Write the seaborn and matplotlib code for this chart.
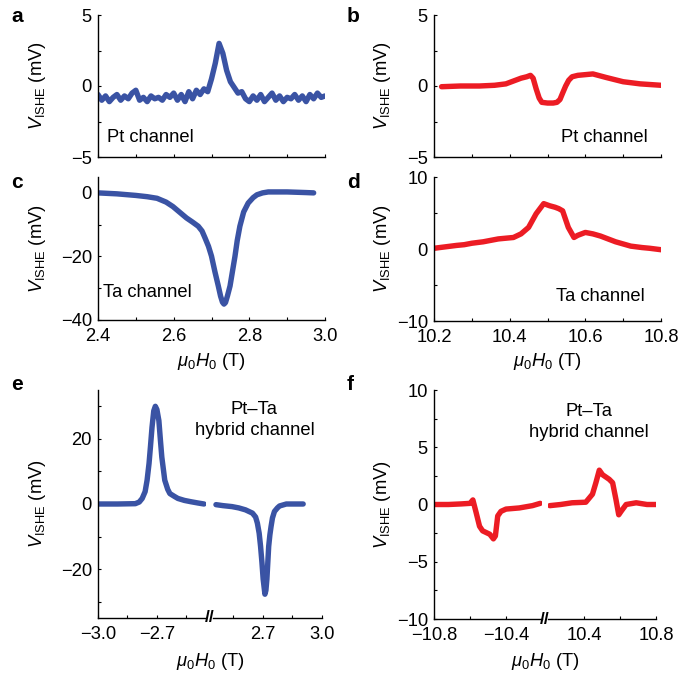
"""Inverse spin Hall voltage vs field, Pt / Ta / Pt-Ta hybrid channels (six panels)."""

import matplotlib
matplotlib.use("Agg")
import matplotlib.pyplot as plt
import numpy as np
import seaborn as sns
from matplotlib.ticker import FixedLocator, MultipleLocator

sns.set_theme(style="ticks")
plt.rcParams["font.family"] = ["Liberation Sans", "DejaVu Sans"]
plt.rcParams.update({
    "mathtext.fontset": "custom",
    "mathtext.rm": "Liberation Sans",
    "mathtext.it": "Liberation Sans:italic",
    "axes.linewidth": 1.0,
    "axes.edgecolor": "black",
    "text.color": "black",
    "axes.labelcolor": "black",
    "xtick.color": "black",
    "ytick.color": "black",
})

BLUE = "#3a53a4"
RED = "#ec1c24"
LW = 3.9
FS = 13.2

# ---- data (field in T, voltage in mV) ----
# a: Pt channel, low field (noisy baseline, sampled every 0.01 T)
x_a = np.linspace(2.40, 3.00, 61)
y_a = [-0.6, -1.0, -0.7, -1.1, -0.8, -0.6, -1.0, -0.7, -0.9, -0.5,
       -0.3, -1.0, -0.8, -1.1, -0.7, -0.9, -0.8, -1.0, -0.6, -0.8,
       -0.5, -1.0, -0.6, -1.1, -0.4, -0.9, -0.3, -0.6, -0.2, -0.4,
       0.5, 1.6, 3.0, 2.3, 1.1, 0.3, -0.1, -0.5, -0.4, -0.9,
       -1.1, -0.7, -1.0, -0.6, -1.1, -0.8, -0.5, -1.0, -0.7, -1.1,
       -0.8, -0.9, -0.6, -1.0, -0.7, -1.1, -0.6, -0.9, -0.5, -0.8, -0.7]

# b: Pt channel, high field
x_b = [10.22, 10.27, 10.32, 10.36, 10.39, 10.41, 10.43, 10.445, 10.455, 10.462,
       10.47, 10.478, 10.485, 10.50, 10.515, 10.525, 10.533, 10.54, 10.548,
       10.556, 10.565, 10.58, 10.62, 10.655, 10.70, 10.745, 10.80]
y_b = [-0.05, 0.0, 0.0, 0.05, 0.15, 0.35, 0.55, 0.65, 0.75, 0.55,
       -0.2, -0.85, -1.15, -1.2, -1.2, -1.15, -0.95, -0.5, 0.0,
       0.4, 0.65, 0.75, 0.85, 0.6, 0.3, 0.15, 0.05]

# c: Ta channel, low field
x_c = [2.40, 2.45, 2.50, 2.53, 2.556, 2.58, 2.598, 2.615, 2.634, 2.65, 2.665,
       2.675, 2.683, 2.692, 2.70, 2.709, 2.718, 2.724, 2.729, 2.733, 2.737,
       2.742, 2.749, 2.755, 2.762, 2.768, 2.775, 2.785, 2.797, 2.81, 2.82,
       2.835, 2.85, 2.90, 2.95, 2.97]
y_c = [0.0, -0.3, -0.8, -1.2, -1.7, -2.9, -4.3, -6.0, -7.9, -9.2, -10.5,
       -12.0, -14.2, -16.8, -19.9, -24.8, -29.3, -32.5, -34.4, -35.0, -34.5,
       -32.5, -29.3, -25.0, -20.0, -15.0, -10.5, -6.0, -3.2, -1.5, -0.6,
       0.0, 0.3, 0.3, 0.1, 0.0]

# d: Ta channel, high field
x_d = [10.20, 10.23, 10.26, 10.28, 10.30, 10.33, 10.37, 10.39, 10.41, 10.43,
       10.45, 10.47, 10.49, 10.506, 10.52, 10.53, 10.54, 10.555, 10.57, 10.58,
       10.60, 10.62, 10.64, 10.66, 10.68, 10.70, 10.72, 10.75, 10.77, 10.80]
y_d = [0.1, 0.3, 0.5, 0.6, 0.8, 1.0, 1.4, 1.5, 1.6, 2.1,
       3.0, 4.9, 6.3, 6.0, 5.8, 5.6, 5.3, 3.0, 1.6, 1.9,
       2.3, 2.1, 1.8, 1.4, 1.0, 0.7, 0.4, 0.2, 0.1, -0.1]

# e: Pt-Ta hybrid channel, low field (negative and positive branches)
x_e_neg = [-3.00, -2.90, -2.81, -2.79, -2.775, -2.76, -2.75, -2.74, -2.733,
           -2.725, -2.716, -2.708, -2.700, -2.69, -2.682, -2.675, -2.66, -2.645,
           -2.634, -2.61, -2.593, -2.56, -2.527, -2.49, -2.46]
y_e_neg = [0.0, 0.0, 0.1, 0.6, 1.7, 3.8, 7.3, 12.5, 17.5,
           23.5, 28.6, 30.0, 29.0, 25.6, 19.5, 14.4, 7.3, 4.5,
           3.2, 2.3, 1.7, 1.1, 0.7, 0.3, 0.0]
x_e_pos = [2.465, 2.50, 2.546, 2.58, 2.614, 2.649, 2.665, 2.674, 2.683, 2.69,
           2.697, 2.703, 2.712, 2.717, 2.722, 2.727, 2.731, 2.737, 2.743, 2.75,
           2.76, 2.775, 2.786, 2.82, 2.86, 2.905]
y_e_pos = [-0.2, -0.5, -0.8, -1.2, -1.8, -2.8, -4.0, -5.9, -9.0, -13.0,
           -18.0, -23.0, -27.7, -26.5, -23.0, -17.5, -13.0, -9.5, -6.9, -4.3,
           -2.3, -1.2, -0.6, 0.0, 0.0, 0.0]

# f: Pt-Ta hybrid channel, high field
x_f_neg = [-10.80, -10.72, -10.65, -10.60, -10.584, -10.566, -10.547, -10.53,
           -10.49, -10.47, -10.459, -10.446, -10.428, -10.40, -10.326, -10.253,
           -10.21]
y_f_neg = [0.0, 0.0, 0.05, 0.1, 0.4, -0.7, -1.9, -2.3,
           -2.6, -3.0, -2.75, -1.0, -0.6, -0.4, -0.3, -0.1,
           0.1]
x_f_pos = [10.21, 10.27, 10.334, 10.41, 10.447, 10.466, 10.485, 10.503,
           10.54, 10.559, 10.578, 10.593, 10.606, 10.634, 10.69, 10.75, 10.80]
y_f_pos = [-0.1, 0.0, 0.15, 0.2, 0.9, 1.9, 3.0, 2.6,
           2.2, 1.9, 0.4, -0.9, -0.6, 0.0, 0.15, 0.0, 0.0]

YLABEL = r"$V_{\mathrm{ISHE}}$ (mV)"
XLABEL = r"$\mu_0H_0$ (T)"

W = H = 678


def rect(left, top, right, bottom):
    """Pixel box (from top-left) -> figure fraction rect."""
    return [left / W, 1 - bottom / H, (right - left) / W, (bottom - top) / H]


def style(ax, left_spine=True):
    sns.despine(ax=ax, top=True, right=True, left=not left_spine)
    ax.tick_params(axis="both", which="both", direction="in", labelsize=FS,
                   colors="black", width=0.8)
    ax.tick_params(axis="both", which="major", length=2.5)
    ax.tick_params(axis="both", which="minor", length=2.0)
    ax.tick_params(axis="x", pad=6)
    ax.tick_params(axis="y", pad=4.5)
    ax.set_facecolor("none")
    ax.grid(False)


def draw(ax, x, y, color):
    sns.lineplot(x=x, y=y, ax=ax, color=color, linewidth=LW, sort=False,
                 estimator=None, solid_capstyle="round", solid_joinstyle="round")


fig = plt.figure(figsize=(W / 100, H / 100), dpi=100)

# ---- a ----
ax_a = fig.add_axes(rect(98, 15, 325, 157))
draw(ax_a, x_a, y_a, BLUE)
ax_a.set_xlim(2.4, 3.0)
ax_a.set_ylim(-5, 5)
ax_a.xaxis.set_major_locator(MultipleLocator(0.1))
ax_a.set_xticklabels([])
ax_a.yaxis.set_major_locator(FixedLocator([-5, 0, 5]))
ax_a.yaxis.set_minor_locator(FixedLocator([-2.5, 2.5]))
ax_a.text(0.04, 0.14, "Pt channel", transform=ax_a.transAxes, fontsize=FS, va="center", ha="left")

# ---- b ----
ax_b = fig.add_axes(rect(434, 15, 661, 157))
draw(ax_b, x_b, y_b, RED)
ax_b.set_xlim(10.2, 10.8)
ax_b.set_ylim(-5, 5)
ax_b.xaxis.set_major_locator(MultipleLocator(0.1))
ax_b.set_xticklabels([])
ax_b.yaxis.set_major_locator(FixedLocator([-5, 0, 5]))
ax_b.yaxis.set_minor_locator(FixedLocator([-2.5, 2.5]))
ax_b.text(0.94, 0.14, "Pt channel", transform=ax_b.transAxes, fontsize=FS, va="center", ha="right")

# ---- c ----
ax_c = fig.add_axes(rect(98, 177, 325, 320))
draw(ax_c, x_c, y_c, BLUE)
ax_c.set_xlim(2.4, 3.0)
ax_c.set_ylim(-40, 5)
ax_c.xaxis.set_major_locator(FixedLocator([2.4, 2.6, 2.8, 3.0]))
ax_c.xaxis.set_minor_locator(FixedLocator([2.5, 2.7, 2.9]))
ax_c.set_xticklabels(["2.4", "2.6", "2.8", "3.0"])
ax_c.yaxis.set_major_locator(FixedLocator([-40, -20, 0]))
ax_c.yaxis.set_minor_locator(FixedLocator([-30, -10]))
ax_c.text(0.02, 0.19, "Ta channel", transform=ax_c.transAxes, fontsize=FS, va="center", ha="left")

# ---- d ----
ax_d = fig.add_axes(rect(434, 177, 661, 321))
draw(ax_d, x_d, y_d, RED)
ax_d.set_xlim(10.2, 10.8)
ax_d.set_ylim(-10, 10)
ax_d.xaxis.set_major_locator(FixedLocator([10.2, 10.4, 10.6, 10.8]))
ax_d.xaxis.set_minor_locator(FixedLocator([10.3, 10.5, 10.7]))
ax_d.set_xticklabels(["10.2", "10.4", "10.6", "10.8"])
ax_d.yaxis.set_major_locator(FixedLocator([-10, 0, 10]))
ax_d.yaxis.set_minor_locator(FixedLocator([-5, 5]))
ax_d.text(0.93, 0.17, "Ta channel", transform=ax_d.transAxes, fontsize=FS, va="center", ha="right")

# ---- e (broken x axis) ----
ax_e1 = fig.add_axes(rect(98, 390, 206, 618))
ax_e2 = fig.add_axes(rect(213, 390, 322, 618))
draw(ax_e1, x_e_neg, y_e_neg, BLUE)
draw(ax_e2, x_e_pos, y_e_pos, BLUE)
ax_e1.set_xlim(-3.0, -2.45)
ax_e2.set_xlim(2.45, 3.0)
for ax in (ax_e1, ax_e2):
    ax.set_ylim(-35, 35)
ax_e1.xaxis.set_major_locator(FixedLocator([-3.0, -2.7]))
ax_e1.xaxis.set_minor_locator(FixedLocator([-2.85, -2.55]))
ax_e1.set_xticklabels(["\u22123.0", "\u22122.7"])
ax_e2.xaxis.set_major_locator(FixedLocator([2.7, 3.0]))
ax_e2.xaxis.set_minor_locator(FixedLocator([2.55, 2.85]))
ax_e2.set_xticklabels(["2.7", "3.0"])
ax_e1.yaxis.set_major_locator(FixedLocator([-20, 0, 20]))
ax_e1.yaxis.set_minor_locator(FixedLocator([-30, -10, 10, 30]))
ax_e2.text(0.38, 0.87, "Pt\u2013Ta\nhybrid channel", transform=ax_e2.transAxes,
           fontsize=FS, va="center", ha="center", linespacing=1.3)

# ---- f (broken x axis) ----
ax_f1 = fig.add_axes(rect(434, 390, 542, 619))
ax_f2 = fig.add_axes(rect(548, 390, 656, 619))
draw(ax_f1, x_f_neg, y_f_neg, RED)
draw(ax_f2, x_f_pos, y_f_pos, RED)
ax_f1.set_xlim(-10.8, -10.2)
ax_f2.set_xlim(10.2, 10.8)
for ax in (ax_f1, ax_f2):
    ax.set_ylim(-10, 10)
ax_f1.xaxis.set_major_locator(FixedLocator([-10.8, -10.4]))
ax_f1.xaxis.set_minor_locator(FixedLocator([-10.6]))
ax_f1.set_xticklabels(["\u221210.8", "\u221210.4"])
ax_f2.xaxis.set_major_locator(FixedLocator([10.4, 10.8]))
ax_f2.xaxis.set_minor_locator(FixedLocator([10.6]))
ax_f2.set_xticklabels(["10.4", "10.8"])
ax_f1.yaxis.set_major_locator(FixedLocator([-10, -5, 0, 5, 10]))
ax_f1.yaxis.set_minor_locator(FixedLocator([-7.5, -2.5, 2.5, 7.5]))
ax_f2.text(0.38, 0.86, "Pt\u2013Ta\nhybrid channel", transform=ax_f2.transAxes,
           fontsize=FS, va="center", ha="center", linespacing=1.3)

for ax in (ax_a, ax_b, ax_c, ax_d, ax_e1, ax_f1):
    style(ax)
for ax in (ax_e2, ax_f2):
    style(ax, left_spine=False)
    ax.tick_params(axis="y", which="both", left=False, labelleft=False)

# axis labels
for ax, top, bot in ((ax_a, 15, 157), (ax_c, 177, 320), (ax_e1, 390, 618)):
    ax.set_ylabel(YLABEL, fontsize=FS)
    ax.yaxis.set_label_coords(48 / W, 1 - (top + bot) / 2 / H, transform=fig.transFigure)
for ax, top, bot in ((ax_b, 15, 157), (ax_d, 177, 321), (ax_f1, 390, 619)):
    ax.set_ylabel(YLABEL, fontsize=FS)
    ax.yaxis.set_label_coords(393 / W, 1 - (top + bot) / 2 / H, transform=fig.transFigure)
for ax, xc, top in ((ax_c, 211, 351), (ax_d, 547, 351), (ax_e1, 210, 651), (ax_f1, 545, 651)):
    ax.set_xlabel(XLABEL, fontsize=FS)
    ax.xaxis.set_label_coords(xc / W, 1 - top / H, transform=fig.transFigure)

# break marks on the split axes
for xb, yb in ((209.5, 618), (545, 619)):
    fig.text(xb / W, 1 - yb / H, "//", fontsize=12.5, fontweight="bold",
             ha="center", va="center")

# panel letters
for letter, xp, yp in (("a", 11, 17), ("b", 347, 17), ("c", 11, 183),
                       ("d", 347, 183), ("e", 11, 385), ("f", 347, 384)):
    fig.text(xp / W, 1 - yp / H, letter, fontsize=15, fontweight="bold", ha="left", va="center")

fig.savefig("out.png", dpi=100, facecolor="white")
plt.close(fig)
